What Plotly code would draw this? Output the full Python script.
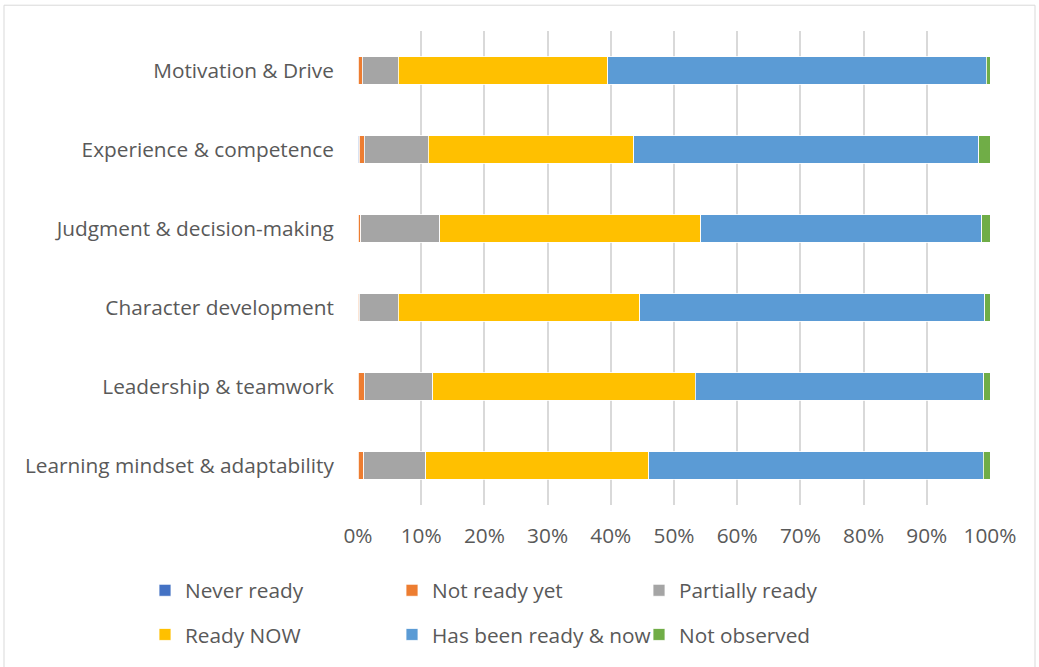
import plotly.graph_objects as go

categories = ["Motivation & Drive", "Experience & competence", "Judgment & decision-making",
              "Character development", "Leadership & teamwork", "Learning mindset & adaptability"]

series_names = ["Never ready", "Not ready yet", "Partially ready",
                "Ready NOW", "Has been ready & now", "Not observed"]

never_ready = [0.0, 0.2, 0.0, 0.0, 0.0, 0.0]
not_ready_yet = [0.7, 0.8, 0.4, 0.2, 1.0, 0.9]
partially_ready = [5.7, 10.1, 12.5, 6.2, 10.8, 9.8]
ready_now = [33.1, 32.5, 41.3, 38.2, 41.6, 35.3]
has_been_ready = [59.9, 54.6, 44.5, 54.6, 45.6, 52.9]
not_observed = [0.6, 1.8, 1.3, 0.8, 1.0, 1.1]

colors = ["#4472C4", "#ED7D31", "#A5A5A5", "#FFC000", "#5B9BD5", "#70AD47"]
values = [never_ready, not_ready_yet, partially_ready, ready_now, has_been_ready, not_observed]

FONT = "Open Sans"
FS = 20.8
W, H = 1039, 667
ML, MR, MT, MB = 358, 49, 31, 158
PW, PH = W - ML - MR, H - MT - MB

def px_x(p):
    return (p - ML) / PW

def px_y(p):
    return (H - MB - p) / PH

fig = go.Figure()
for i, (name, vals, col) in enumerate(zip(series_names, values, colors)):
    fig.add_trace(go.Bar(
        y=categories, x=[v / 100 for v in vals], name=name, orientation="h",
        marker=dict(color=col, line=dict(color="white", width=0.8)),
        legend="legend" if i < 3 else "legend2",
    ))

legend_common = dict(orientation="h", xanchor="left", yanchor="middle",
                     entrywidth=202, entrywidthmode="pixels",
                     font=dict(family=FONT, size=FS, color="#595959"),
                     bgcolor="rgba(0,0,0,0)", traceorder="normal")

fig.update_layout(
    width=W, height=H,
    margin=dict(l=ML, r=MR, t=MT, b=MB),
    barmode="stack", bargap=0.648,
    plot_bgcolor="white", paper_bgcolor="white",
    font=dict(family=FONT, size=FS, color="#595959"),
    xaxis=dict(range=[0, 1], tickformat=".0%", dtick=0.1, showgrid=True,
               gridcolor="#d9d9d9", gridwidth=1.5, zeroline=False, showline=False,
               ticks="outside", ticklen=12, tickcolor="rgba(0,0,0,0)",
               tickfont=dict(family=FONT, size=FS, color="#595959")),
    yaxis=dict(autorange="reversed", showgrid=False, showline=False, zeroline=False,
               ticks="outside", ticklen=19, tickcolor="rgba(0,0,0,0)",
               tickfont=dict(family=FONT, size=FS, color="#595959")),
    legend=dict(x=px_x(145), y=px_y(595.5), **legend_common),
    legend2=dict(x=px_x(145), y=px_y(640), **legend_common),
    shapes=[dict(type="rect", xref="paper", yref="paper",
                 x0=px_x(4), x1=px_x(1035), y0=px_y(690), y1=px_y(5),
                 line=dict(color="#d9d9d9", width=1), fillcolor="rgba(0,0,0,0)",
                 layer="below")],
)

fig.write_html("out.html")
